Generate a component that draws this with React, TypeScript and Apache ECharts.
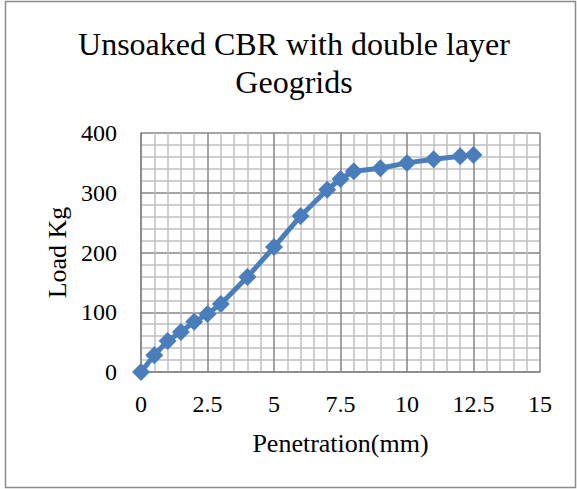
import React, { useEffect, useRef } from "react";
import * as echarts from "echarts";

const penetration = [0, 0.5, 1, 1.5, 2, 2.5, 3, 4, 5, 6, 7, 7.5, 8, 9, 10, 11, 12, 12.5];
const load = [0, 28, 52, 67, 84, 97, 114, 159, 209, 261, 305, 323, 336, 341, 350, 356, 361, 363];
const titleLines = ["Unsoaked CBR with double layer", "Geogrids"];
const xName = "Penetration(mm)";
const yName = "Load Kg";

export default function App() {
  const ref = useRef<HTMLDivElement>(null);
  useEffect(() => {
    const chart = echarts.init(ref.current!, null, { renderer: "svg" });
    const font = "'Liberation Serif', 'Times New Roman', serif";
    chart.setOption({
      animation: false,
      backgroundColor: "#fff",
      graphic: [
        {
          type: "rect",
          shape: { x: 5.5, y: 1.5, width: 570, height: 486 },
          style: { fill: "none", stroke: "#8c8c8c", lineWidth: 1.5 },
          silent: true,
        },
      ],
      title: {
        text: titleLines.join("\n"),
        left: 289,
        top: 20,
        textAlign: "center",
        textStyle: { fontFamily: font, fontSize: 32, fontWeight: "normal", color: "#000", lineHeight: 38 },
      },
      grid: { left: 141, right: 37, top: 133, bottom: 117, containLabel: false },
      xAxis: {
        type: "value",
        min: 0,
        max: 15,
        interval: 2.5,
        name: xName,
        nameLocation: "middle",
        nameGap: 58,
        nameTextStyle: { fontFamily: font, fontSize: 26, color: "#000" },
        axisLine: { show: true, lineStyle: { color: "#868686", width: 1.5 } },
        axisTick: { show: false },
        axisLabel: { fontFamily: font, fontSize: 24, color: "#000", margin: 20 },
        splitLine: { show: true, lineStyle: { color: "#868686", width: 1.5 } },
        minorTick: { show: false, splitNumber: 5 },
        minorSplitLine: { show: true, lineStyle: { color: "#bfbfbf", width: 1.5 } },
      },
      yAxis: {
        type: "value",
        min: 0,
        max: 400,
        interval: 100,
        name: yName,
        nameLocation: "middle",
        nameGap: 70,
        nameTextStyle: { fontFamily: font, fontSize: 26, color: "#000" },
        axisLine: { show: true, lineStyle: { color: "#868686", width: 1.5 } },
        axisTick: { show: false },
        axisLabel: { fontFamily: font, fontSize: 24, color: "#000", margin: 24 },
        splitLine: { show: true, lineStyle: { color: "#868686", width: 1.5 } },
        minorTick: { show: false, splitNumber: 5 },
        minorSplitLine: { show: true, lineStyle: { color: "#bfbfbf", width: 1.5 } },
      },
      series: [
        {
          type: "line",
          data: penetration.map((p, i) => [p, load[i]]),
          symbol: "diamond",
          symbolSize: 18,
          itemStyle: { color: "#4a7ebb" },
          lineStyle: { color: "#4a7ebb", width: 5 },
          clip: false,
        },
      ],
    });
    return () => chart.dispose();
  }, []);
  return <div ref={ref} style={{ width: 577, height: 489, position: "absolute", left: 0, top: 0 }} />;
}
